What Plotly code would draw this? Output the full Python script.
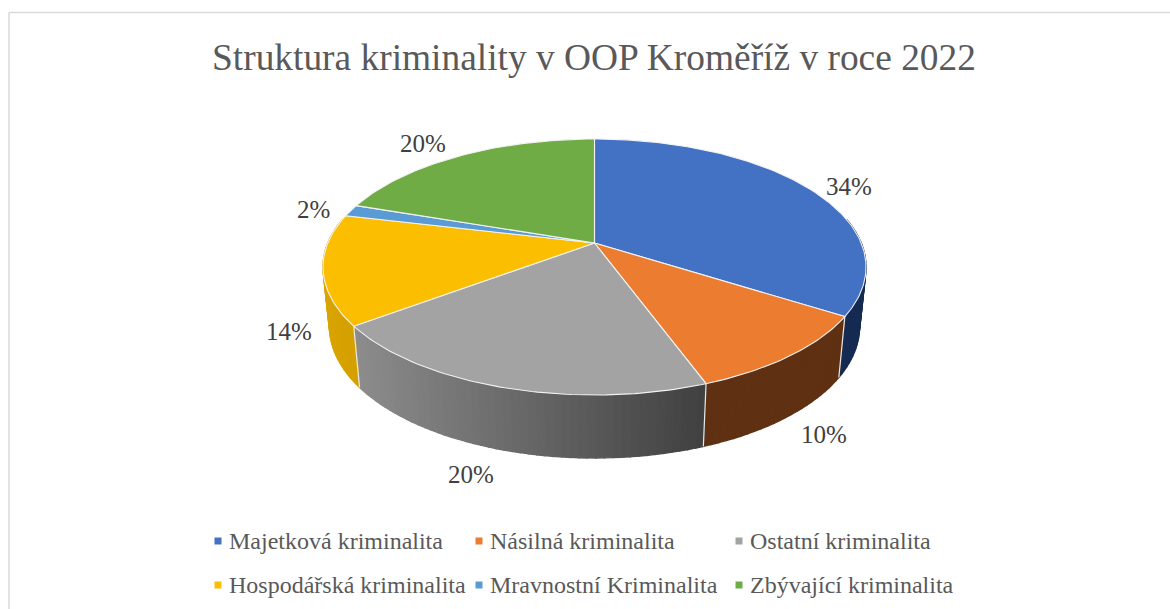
import math
import plotly.graph_objects as go

title = "Struktura kriminality v OOP Kroměříž v roce 2022"
categories = ["Majetková kriminalita", "Násilná kriminalita", "Ostatní kriminalita",
              "Hospodářská kriminalita", "Mravnostní Kriminalita", "Zbývající kriminalita"]
shares = [34.0, 10.4, 20.4, 13.9, 1.5, 19.8]
share_labels = ["34%", "10%", "20%", "14%", "2%", "20%"]
colors = ["#4371c4", "#ec7c30", "#a3a3a3", "#fcbe00", "#5b9bd5", "#6fac46"]
wall_from = ["#1a3260", "#5f3112", "#8c8c8c", "#d9a400", "#2f5f8f", "#3f6828"]
wall_to = ["#152b52", "#5f3112", "#404040", "#d4a000", "#2f5f8f", "#3f6828"]

# where each label sits, page pixels
label_x = [849, 824, 471, 289, 313, 423]
label_y = [186, 434, 474, 331, 209, 143]
legend_x = [218, 479, 739, 218, 479, 739]
legend_y = [541, 541, 541, 585, 585, 585]

# pie projection, page pixels
CX, CY = 594.5, 243
A, B, K = 266.7, 123.5, 0.1875
FLOOR_DROP, FLOOR_SCALE_X, FLOOR_SCALE_Y = 59, 0.976, 1.026

PAGE_W, PAGE_H = 1170, 609


def project(deg, floor=False):
    t = math.radians(deg)
    px, py = math.sin(t), math.cos(t)
    w = 1 + K * py
    sx, sy = A * px / w, -B * py / w
    if floor:
        return CX + sx * FLOOR_SCALE_X, CY + FLOOR_DROP + sy * FLOOR_SCALE_Y
    return CX + sx, CY + sy


def mix(c1, c2, t):
    a = [int(c1[i:i + 2], 16) for i in (1, 3, 5)]
    b = [int(c2[i:i + 2], 16) for i in (1, 3, 5)]
    return "rgb(%d,%d,%d)" % tuple(round(u + (v - u) * t) for u, v in zip(a, b))


def polygon(xs, ys, fill, line_color, width=1.0):
    return go.Scatter(x=xs, y=ys, mode="lines", fill="toself", fillcolor=fill,
                      line=dict(color=line_color, width=width), hoverinfo="skip", showlegend=False)


fig = go.Figure()

# slice angles from the shares
edges = [0.0]
for s in shares:
    edges.append(edges[-1] + s * 3.6)

# side walls, split into thin strips to get the shading
for i, s in enumerate(shares):
    start, end = edges[i], edges[i + 1]
    steps = max(2, int((end - start) / 1.5))
    angs = [start + (end - start) * j / steps for j in range(steps + 1)]
    xs_all = [project(a)[0] for a in angs]
    lo, hi = min(xs_all), max(xs_all)
    for a0, a1 in zip(angs[:-1], angs[1:]):
        if math.cos(math.radians((a0 + a1) / 2)) > 0.2:
            continue
        p0, p1 = project(a0), project(a1)
        q0, q1 = project(a0, True), project(a1, True)
        mid = (p0[0] + p1[0]) / 2
        col = mix(wall_from[i], wall_to[i], (mid - lo) / (hi - lo))
        fig.add_trace(polygon([p0[0], p1[0], q1[0], q0[0], p0[0]],
                              [p0[1], p1[1], q1[1], q0[1], p0[1]], col, col, 1.4))

# white seams between the walls
for e in edges[:-1]:
    if math.cos(math.radians(e)) < 0.2:
        p, q = project(e), project(e, True)
        fig.add_trace(go.Scatter(x=[p[0], q[0]], y=[p[1], q[1]], mode="lines",
                                 line=dict(color="#e8e8e8", width=1.2),
                                 hoverinfo="skip", showlegend=False))

# top faces
for i, s in enumerate(shares):
    start, end = edges[i], edges[i + 1]
    steps = max(4, int((end - start) / 1.0))
    pts = [project(start + (end - start) * j / steps) for j in range(steps + 1)]
    xs = [CX] + [p[0] for p in pts] + [CX]
    ys = [CY] + [p[1] for p in pts] + [CY]
    fig.add_trace(polygon(xs, ys, colors[i], "#f2f2f2", 1.1))

# legend squares
fig.add_trace(go.Scatter(x=legend_x, y=legend_y, mode="markers",
                         marker=dict(symbol="square", size=7, color=colors),
                         hoverinfo="skip", showlegend=False))

annotations = [dict(x=594, y=57, text=title, showarrow=False, xanchor="center", yanchor="middle",
                    font=dict(family="Liberation Serif", size=37.4, color="#595959"))]
for tx, ty, txt in zip(label_x, label_y, share_labels):
    annotations.append(dict(x=tx, y=ty, text=txt, showarrow=False, xanchor="center", yanchor="middle",
                            font=dict(family="Liberation Serif", size=25, color="#404040")))
for tx, ty, txt in zip(legend_x, legend_y, categories):
    annotations.append(dict(x=tx + 9, y=ty, text=txt, showarrow=False, xanchor="left", yanchor="middle",
                            font=dict(family="Liberation Serif", size=24, color="#595959")))

# chart area frame
shapes = [dict(type="line", x0=9, y0=12.5, x1=PAGE_W, y1=12.5, line=dict(color="#d9d9d9", width=1.5)),
          dict(type="line", x0=9, y0=12.5, x1=9, y1=PAGE_H, line=dict(color="#d9d9d9", width=1.5))]

fig.update_layout(
    width=PAGE_W, height=PAGE_H,
    margin=dict(l=0, r=0, t=0, b=0),
    paper_bgcolor="white", plot_bgcolor="white",
    xaxis=dict(range=[0, PAGE_W], visible=False, fixedrange=True),
    yaxis=dict(range=[PAGE_H, 0], visible=False, fixedrange=True),
    annotations=annotations, shapes=shapes, showlegend=False,
)

# drop the browser's default body margin so page pixels match the axes
fig.write_html("out.html", config=dict(displayModeBar=False),
               post_script="document.body.style.margin='0';document.body.style.overflow='hidden';")
